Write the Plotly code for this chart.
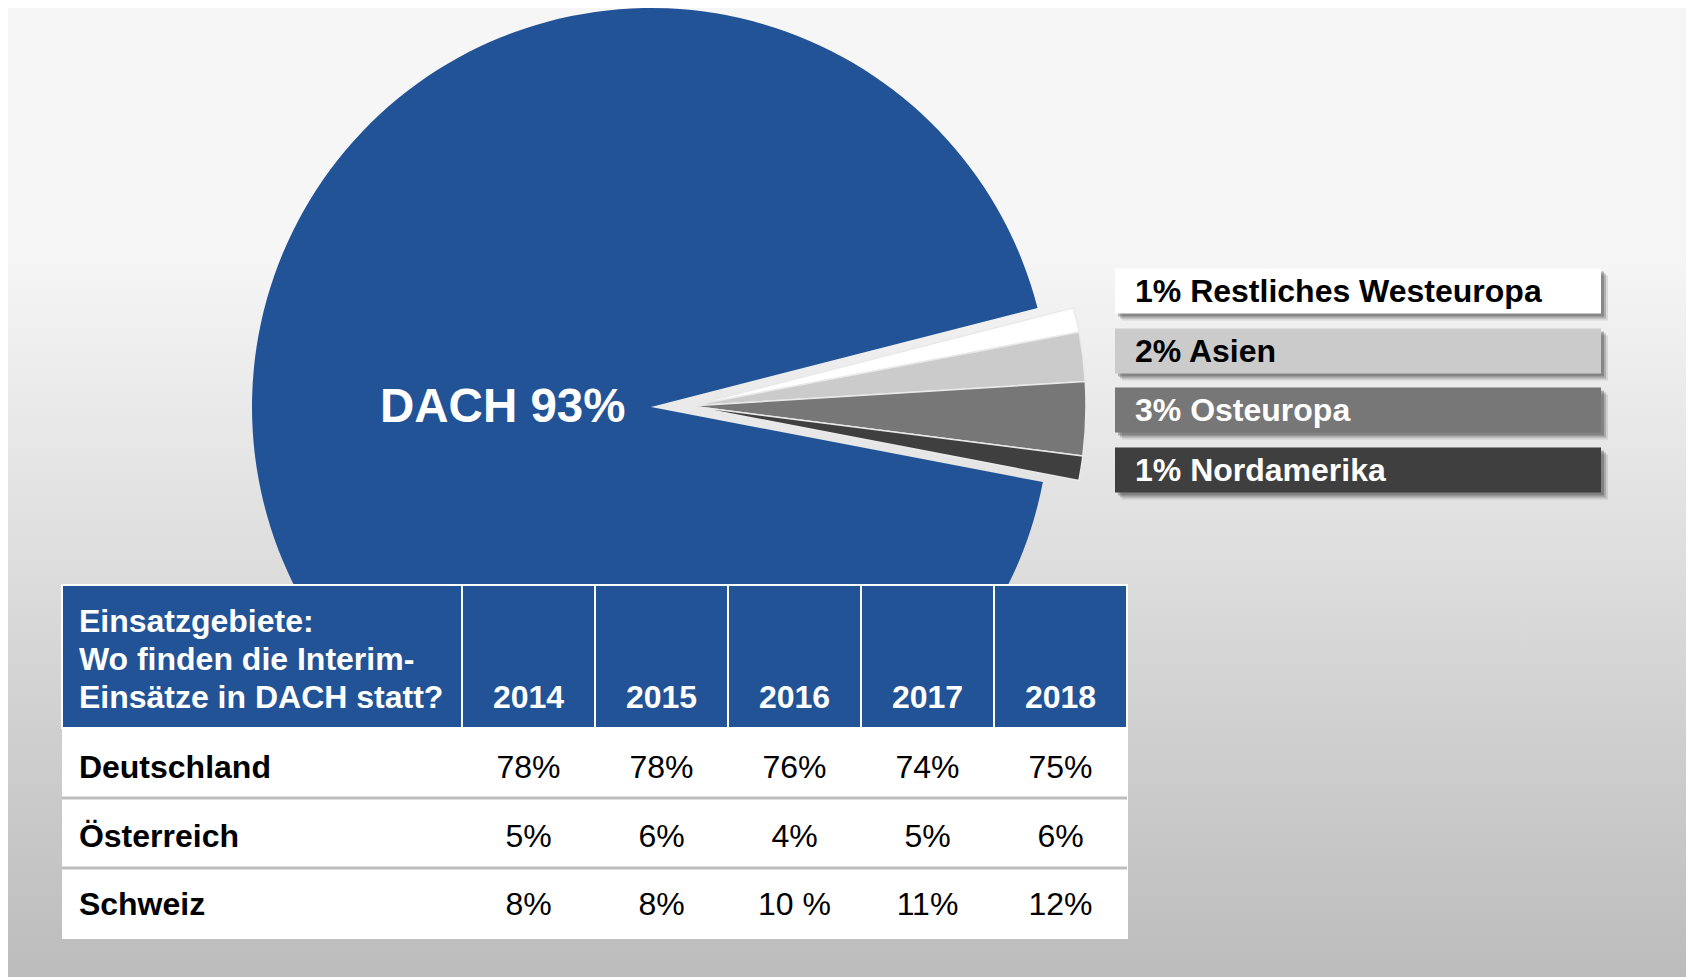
import plotly.graph_objects as go

W, H = 1694, 977
OFF = 8  # the page body keeps an 8px margin
FW, FH = W - OFF, H - OFF

# pie data (share of interim assignments by region, %)
regions = ["DACH", "Restliches Westeuropa", "Asien", "Osteuropa", "Nordamerika"]
shares = [93, 1, 2, 3, 1]
region_colors = ["#235397", "#ffffff", "#cbcbcb", "#777777", "#3f3f3f"]
label_colors = ["#ffffff", "#000000", "#000000", "#ffffff", "#ffffff"]

# table data
table_title = ["Einsatzgebiete:", "Wo finden die Interim-", "Einsätze in DACH statt?"]
years = ["2014", "2015", "2016", "2017", "2018"]
countries = ["Deutschland", "Österreich", "Schweiz"]
deutschland = ["78%", "78%", "76%", "74%", "75%"]
oesterreich = ["5%", "6%", "4%", "5%", "6%"]
schweiz = ["8%", "8%", "10 %", "11%", "12%"]

FONT = "Liberation Sans, Arial, sans-serif"
BLUE = region_colors[0]
NB = "\u00a0"
TRANSPARENT = "rgba(0,0,0,0)"


def fx(px):
    return min(max((px - OFF) / FW, 0), 1)


def fy(py):
    return min(max(1 - (py - OFF) / FH, 0), 1)


def main():
    fig = go.Figure()

    # card background with vertical gradient (x in px, y = H - px)
    fig.add_trace(go.Scatter(
        x=[7, 1688, 1688, 7, 7],
        y=[H - 5, H - 5, -10, -10, H - 5],
        mode="lines",
        fill="toself",
        line=dict(color="#d4d4d4", width=1.5),
        fillgradient=dict(type="vertical",
                          colorscale=[[0, "#bcbcbc"], [1, "#f6f6f6"]],
                          start=0, stop=H - 250),
        hoverinfo="skip",
        showlegend=False,
    ))

    # small slices sit on a second pie shifted to the right (exploded look)
    rot = 100.85
    fig.add_trace(go.Pie(
        values=shares, labels=regions, sort=False,
        direction="clockwise", rotation=rot,
        marker=dict(colors=[BLUE] + [TRANSPARENT] * 4, line=dict(width=0)),
        textinfo="none", hoverinfo="label+percent", showlegend=False,
        domain=dict(x=[fx(252), fx(1050)], y=[fy(806), fy(8)]),
    ))
    fig.add_trace(go.Pie(
        values=shares, labels=regions, sort=False,
        direction="clockwise", rotation=rot,
        marker=dict(colors=[TRANSPARENT] + region_colors[1:],
                    line=dict(color="#e9e9e9", width=[0, 1.5, 1.5, 1.5, 1.5])),
        textinfo="none", hoverinfo="label+percent", showlegend=False,
        domain=dict(x=[fx(294), fx(1086)], y=[fy(802), fy(10)]),
    ))

    # table grid (fills and lines)
    tbl_left, tbl_right, tbl_top = 62, 1127, 585
    head_h, row_h = 143, 70
    colw = [400] + [133] * 5
    xdom = [fx(tbl_left), fx(tbl_right)]
    fig.add_trace(go.Table(
        domain=dict(x=xdom, y=[0, fy(tbl_top)]),
        columnwidth=colw,
        header=dict(values=[""] * 6, fill_color=BLUE, height=head_h,
                    line=dict(color="white", width=2.5)),
        cells=dict(values=[[""] * 3] * 6, fill_color="white", height=row_h,
                   line=dict(color="white", width=1)),
    ))

    # header text: one table row per text line
    base = 33           # baseline offset of table text below a row top
    head_line = 37.8
    head_first = 633    # baseline of first header line
    head_cols = [[NB + t for t in table_title]] + [["", "", y] for y in years]
    fig.add_trace(go.Table(
        domain=dict(x=xdom, y=[0, fy(head_first - base)]),
        columnwidth=colw,
        header=dict(values=head_cols, fill_color=TRANSPARENT, height=head_line,
                    align=["left"] + ["center"] * 5,
                    line=dict(color=TRANSPARENT, width=0),
                    font=dict(family=FONT, size=32, color="white", weight="bold")),
    ))

    # body text
    body_line = 68.6
    body_first = 779
    rows = [deutschland, oesterreich, schweiz]
    value_cols = [[r[i] for r in rows] for i in range(len(years))]
    fig.add_trace(go.Table(
        domain=dict(x=xdom, y=[0, fy(body_first - base)]),
        columnwidth=colw,
        header=dict(values=[[NB + c for c in countries]] + value_cols,
                    fill_color=TRANSPARENT, height=body_line,
                    align=["left"] + ["center"] * 5,
                    line=dict(color=TRANSPARENT, width=0),
                    font=dict(family=FONT, size=32, color="black",
                              weight=["bold"] + ["normal"] * 5)),
    ))

    shapes = []
    # row separators
    for k in range(1, len(countries)):
        yy = tbl_top + head_h + k * row_h
        shapes.append(dict(type="line", xref="paper", yref="paper", layer="above",
                           x0=fx(tbl_left), x1=fx(tbl_right), y0=fy(yy), y1=fy(yy),
                           line=dict(color="#bdbdbd", width=3)))

    # label boxes at the right
    box_x0, box_x1, box_h = 1115, 1601, 45
    centers = [291, 351, 410, 470]
    annotations = []
    for i, cy in enumerate(centers):
        idx = i + 1
        for off, alpha in ((7, 0.12), (5, 0.22), (3, 0.3)):
            shapes.append(dict(type="rect", xref="paper", yref="paper", layer="above",
                               x0=fx(box_x0 + off), x1=fx(box_x1 + off),
                               y0=fy(cy + box_h / 2 + off), y1=fy(cy - box_h / 2 + off),
                               line=dict(width=0), fillcolor=f"rgba(40,40,40,{alpha})"))
        shapes.append(dict(type="rect", xref="paper", yref="paper", layer="above",
                           x0=fx(box_x0), x1=fx(box_x1),
                           y0=fy(cy + box_h / 2), y1=fy(cy - box_h / 2),
                           line=dict(width=0), fillcolor=region_colors[idx]))
        annotations.append(dict(
            x=fx(box_x0 + 18), y=fy(cy), xref="paper", yref="paper",
            xanchor="left", yanchor="middle", showarrow=False,
            text=f"<b>{shares[idx]}% {regions[idx]}</b>",
            font=dict(family=FONT, size=32, color=label_colors[idx]),
        ))

    # DACH label
    annotations.append(dict(
        x=fx(502), y=fy(406), xref="paper", yref="paper",
        xanchor="center", yanchor="middle", showarrow=False,
        text=f"<b>{regions[0]} {shares[0]}%</b>",
        font=dict(family=FONT, size=47.5, color=label_colors[0]),
    ))

    fig.update_layout(
        width=FW, height=FH,
        margin=dict(l=0, r=0, t=0, b=0),
        paper_bgcolor="white",
        plot_bgcolor="white",
        font=dict(family=FONT),
        xaxis=dict(range=[OFF, W], visible=False, fixedrange=True),
        yaxis=dict(range=[0, H - OFF], visible=False, fixedrange=True),
        shapes=shapes,
        annotations=annotations,
    )

    fig.write_html("out.html")


if __name__ == "__main__":
    main()
